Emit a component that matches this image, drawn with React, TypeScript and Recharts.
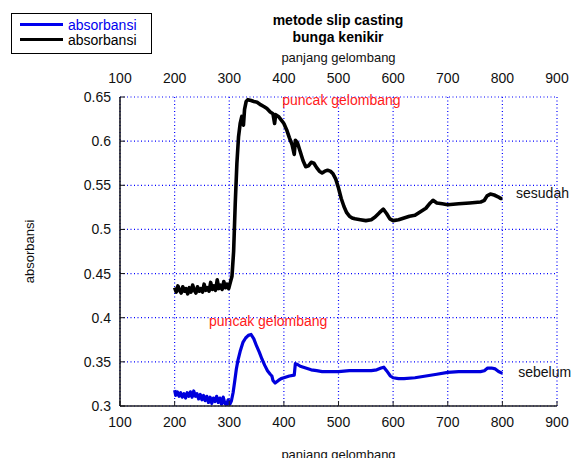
import React from 'react';
import { LineChart, Line, XAxis, YAxis, CartesianGrid, ReferenceDot, Label } from 'recharts';

const xTicks = [100, 200, 300, 400, 500, 600, 700, 800, 900];
const yTicks = [0.3, 0.35, 0.4, 0.45, 0.5, 0.55, 0.6, 0.65];

// sesudah (black)
const waveSesudah = [
  200, 203, 206, 209, 212, 215, 218, 221, 224, 227, 230, 233, 236, 239, 242, 245, 248, 251, 254, 257,
  260, 263, 266, 269, 272, 275, 278, 281, 284, 287, 290, 293, 296, 299, 302, 305, 308, 311, 314, 317,
  320, 323, 326, 328, 331, 334, 340, 345, 351, 358, 364, 369, 375, 380, 383, 385, 390, 395, 400, 405,
  410, 415, 419, 421, 425, 430, 435, 440, 445, 450, 455, 460, 465, 470, 475, 480, 485, 490, 495, 500,
  505, 510, 515, 520, 525, 530, 540, 550, 560, 567, 575, 582, 588, 594, 600, 610, 620, 630, 640, 650,
  660, 668, 673, 680, 690, 700, 720, 740, 760, 767, 772, 778, 785, 792, 797, 800,
];
const absSesudah = [
  0.434, 0.429, 0.436, 0.431, 0.428, 0.435, 0.430, 0.433, 0.427, 0.434, 0.429, 0.437, 0.431, 0.428, 0.435, 0.430, 0.433, 0.429, 0.438, 0.431,
  0.434, 0.430, 0.440, 0.432, 0.436, 0.431, 0.443, 0.433, 0.437, 0.432, 0.441, 0.434, 0.438, 0.433, 0.440, 0.447, 0.475, 0.530, 0.575, 0.605,
  0.620, 0.628, 0.618, 0.636, 0.645, 0.647, 0.646, 0.645, 0.644, 0.641, 0.639, 0.637, 0.633, 0.631, 0.620, 0.630, 0.628, 0.624, 0.620, 0.613,
  0.604, 0.596, 0.585, 0.601, 0.598, 0.588, 0.578, 0.571, 0.572, 0.576, 0.575, 0.570, 0.566, 0.564, 0.566, 0.567, 0.566, 0.563, 0.557, 0.547,
  0.535, 0.526, 0.519, 0.515, 0.513, 0.512, 0.511, 0.510, 0.511, 0.514, 0.519, 0.523, 0.518, 0.512, 0.510, 0.511, 0.513, 0.515, 0.516, 0.520,
  0.524, 0.530, 0.533, 0.530, 0.529, 0.528, 0.529, 0.530, 0.531, 0.533, 0.538, 0.540, 0.539, 0.537, 0.535, 0.535,
];

// sebelum (blue)
const waveSebelum = [
  200, 202, 205, 208, 211, 214, 217, 220, 223, 226, 229, 232, 235, 238, 241, 244, 247, 250, 253, 256,
  259, 262, 265, 268, 271, 274, 277, 280, 283, 286, 289, 292, 295, 298, 301, 304, 307, 310, 313, 316,
  320, 325, 330, 335, 340, 345, 350, 355, 360, 365, 370, 375, 378, 380, 384, 390, 395, 400, 410, 419,
  421, 425, 430, 440, 450, 460, 470, 480, 500, 520, 540, 560, 570, 578, 583, 588, 595, 600, 610, 620,
  640, 660, 680, 700, 720, 740, 760, 767, 773, 780, 787, 793, 800,
];
const absSebelum = [
  0.318, 0.312, 0.316, 0.311, 0.315, 0.310, 0.314, 0.309, 0.315, 0.311, 0.316, 0.310, 0.317, 0.311, 0.314, 0.308, 0.313, 0.307, 0.312, 0.306,
  0.311, 0.304, 0.310, 0.303, 0.309, 0.305, 0.311, 0.304, 0.309, 0.302, 0.310, 0.303, 0.301, 0.307, 0.302, 0.306, 0.315, 0.328, 0.342, 0.352,
  0.362, 0.372, 0.377, 0.380, 0.381, 0.376, 0.368, 0.361, 0.353, 0.346, 0.340, 0.336, 0.334, 0.329, 0.326, 0.329, 0.331, 0.332, 0.334, 0.335,
  0.348, 0.347, 0.345, 0.343, 0.341, 0.340, 0.339, 0.339, 0.339, 0.340, 0.340, 0.340, 0.341, 0.343, 0.344, 0.340, 0.334, 0.332, 0.331, 0.331,
  0.332, 0.334, 0.336, 0.338, 0.339, 0.339, 0.339, 0.340, 0.343, 0.343, 0.342, 0.339, 0.337,
];

const notes = [
  { text: 'puncak gelombang', x: 397, y: 0.6466, color: '#ff1a1a' },
  { text: 'puncak gelombang', x: 263, y: 0.3963, color: '#ff1a1a' },
  { text: 'sesudah', x: 825, y: 0.5413, color: '#111' },
  { text: 'sebelum', x: 829, y: 0.3385, color: '#111' },
];

const sesudah = waveSesudah.map((w, i) => ({ w, a: absSesudah[i] }));
const sebelum = waveSebelum.map((w, i) => ({ w, a: absSebelum[i] }));

const font = '"Liberation Sans", Arial, sans-serif';
const tickStyle = { fontSize: 14, fill: '#111', fontFamily: font };

const YLabel = ({ viewBox }: any) => {
  const cx = 29;
  const cy = viewBox.y + viewBox.height / 2;
  return (
    <text x={cx} y={cy} transform={`rotate(-90, ${cx}, ${cy})`} textAnchor="middle" dominantBaseline="central"
      fontSize={13} fontFamily={font} fill="#111">absorbansi</text>
  );
};

export default function App() {
  return (
    <div style={{ position: 'absolute', left: 0, top: 0, width: 571, height: 458, background: '#fff', fontFamily: font }}>
      <div style={{ position: 'absolute', left: 238, top: 12, width: 200, textAlign: 'center', fontWeight: 'bold', fontSize: 14, lineHeight: '17px', color: '#000' }}>
        metode slip casting<br />bunga kenikir
      </div>
      <div style={{ position: 'absolute', left: 11, top: 13, width: 139, height: 39, border: '1.5px solid #000', background: '#fff', zIndex: 2 }}>
        {[{ c: '#0000ee', t: 'absorbansi' }, { c: '#000', t: 'absorbansi' }].map((r, i) => (
          <div key={i} style={{ position: 'absolute', left: 8, top: 3 + i * 15, display: 'flex', alignItems: 'center', height: 15 }}>
            <span style={{ display: 'inline-block', width: 43, height: 3, background: r.c }} />
            <span style={{ marginLeft: 5, fontSize: 14, color: r.c }}>{r.t}</span>
          </div>
        ))}
      </div>
      <LineChart width={571} height={458} margin={{ top: 45, right: 14, bottom: 0, left: 10 }}>
        <CartesianGrid xAxisId="bottom" yAxisId="y" stroke="#0000ff" strokeDasharray="1 2.5" strokeWidth={1.2} />
        <XAxis xAxisId="top" dataKey="w" orientation="top" type="number" domain={[100, 900]} ticks={xTicks} height={52}
          axisLine={false} tickLine={false} tick={tickStyle} tickMargin={8} allowDataOverflow>
          <Label value="panjang gelombang" position="insideTop" offset={8} style={{ fontSize: 13, fill: '#111', fontFamily: font }} />
        </XAxis>
        <XAxis xAxisId="bottom" dataKey="w" orientation="bottom" type="number" domain={[100, 900]} ticks={xTicks} height={52}
          axisLine={{ stroke: '#222', strokeWidth: 1.5 }} tickLine={{ stroke: '#222' }} tickSize={-5} tickMargin={16} tick={tickStyle} allowDataOverflow>
          <Label value="panjang gelombang" position="insideBottom" offset={-1} style={{ fontSize: 13, fill: '#111', fontFamily: font }} />
        </XAxis>
        <YAxis yAxisId="y" type="number" domain={[0.3, 0.65]} ticks={yTicks} width={110}
          axisLine={{ stroke: '#111', strokeWidth: 1.5 }} tickLine={{ stroke: '#111' }} tickSize={-5} tickMargin={14} tick={tickStyle}
          label={<YLabel />} allowDataOverflow />
        <Line xAxisId="top" yAxisId="y" data={sebelum} dataKey="a" type="linear" stroke="#0000dd" strokeWidth={3.2}
          dot={false} isAnimationActive={false} strokeLinejoin="round" />
        <Line xAxisId="bottom" yAxisId="y" data={sesudah} dataKey="a" type="linear" stroke="#000" strokeWidth={3.6}
          dot={false} isAnimationActive={false} strokeLinejoin="round" />
        {notes.map((n, i) => (
          <ReferenceDot key={i} xAxisId="bottom" yAxisId="y" x={n.x} y={n.y} r={0}
            shape={(p: any) => (
              <text x={p.cx} y={p.cy} dominantBaseline="central" fontSize={14} fontFamily={font} fill={n.color}>{n.text}</text>
            )} />
        ))}
      </LineChart>
    </div>
  );
}
